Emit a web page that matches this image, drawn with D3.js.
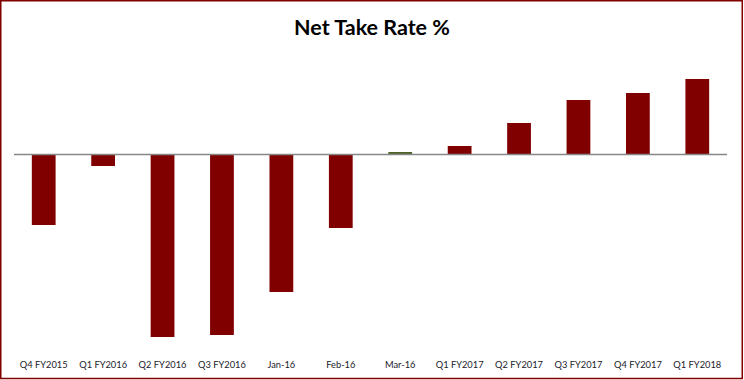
<!DOCTYPE html>
<html>
<head>
<meta charset="utf-8">
<script src="https://cdn.jsdelivr.net/npm/d3@7"></script>
<style>
  html, body { margin: 0; padding: 0; background: #fff; }
</style>
</head>
<body>
<div id="chart"></div>
<script>
const categories = ["Q4 FY2015", "Q1 FY2016", "Q2 FY2016", "Q3 FY2016", "Jan-16", "Feb-16",
    "Mar-16", "Q1 FY2017", "Q2 FY2017", "Q3 FY2017", "Q4 FY2017", "Q1 FY2018"];
const values = [-7.1, -1.2, -18.3, -18.1, -13.8, -7.4, 0.2, 0.8, 3.1, 5.4, 6.1, 7.5];
const highlight = ["Mar-16"]; // drawn in the olive colour
const title = "Net Take Rate %";

function barChart(width = 744, height = 380) {
    const x = d3.scaleBand()
        .domain(categories)
        .range([14, 727])
        .paddingInner(0.6)
        .paddingOuter(0.3);

    const y = d3.scaleLinear()
        .domain([-20, 10])
        .range([354, 54]);

    const svg = d3.create("svg")
        .attr("width", width)
        .attr("height", height)
        .attr("viewBox", [0, 0, width, height])
        .style("display", "block");

    svg.append("rect")
        .attr("width", width)
        .attr("height", height)
        .attr("fill", "#fff");

    // bars
    svg.append("g")
        .selectAll("rect")
        .data(categories)
        .join("rect")
        .attr("x", d => x(d))
        .attr("width", x.bandwidth())
        .attr("y", (d, i) => y(Math.max(0, values[i])))
        .attr("height", (d, i) => Math.abs(y(values[i]) - y(0)))
        .attr("fill", d => highlight.includes(d) ? "#4F6228" : "#800000");

    // zero line
    svg.append("line")
        .attr("x1", 14)
        .attr("x2", 727)
        .attr("y1", y(0) + 0.5)
        .attr("y2", y(0) + 0.5)
        .attr("stroke", "#878787")
        .attr("stroke-width", 1.3);

    // category labels
    svg.append("g")
        .attr("text-anchor", "middle")
        .style("font-family", "Lato, 'Open Sans', sans-serif")
        .style("font-size", "9.3px")
        .attr("fill", "#1a1a2a")
        .selectAll("text")
        .data(categories)
        .join("text")
        .attr("x", d => x(d) + x.bandwidth() / 2)
        .attr("y", 368)
        .text(d => d);

    svg.append("text")
        .attr("x", width / 2)
        .attr("y", 35)
        .attr("text-anchor", "middle")
        .style("font-family", "Lato, 'Open Sans', sans-serif")
        .style("font-weight", "bold")
        .style("font-size", "21.5px")
        .attr("fill", "#000")
        .text(title);

    // outer frame
    svg.append("rect")
        .attr("x", 0.75)
        .attr("y", 0.75)
        .attr("width", 741.5)
        .attr("height", 377.75)
        .attr("fill", "none")
        .attr("stroke", "#800000")
        .attr("stroke-width", 1.5);

    return svg.node();
}

document.getElementById("chart").appendChild(barChart());
</script>
</body>
</html>
